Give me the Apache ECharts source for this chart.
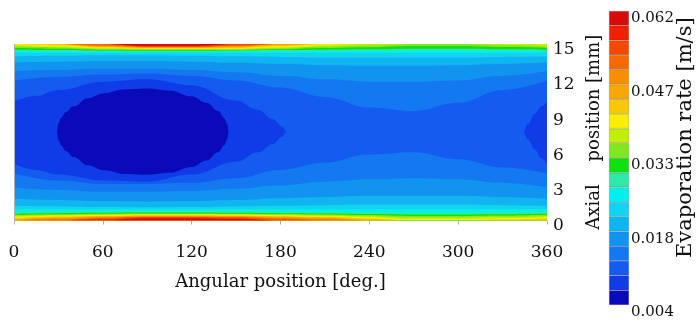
<!DOCTYPE html>
<html><head><meta charset="utf-8">
<script src="https://cdn.jsdelivr.net/npm/echarts@6/dist/echarts.min.js"></script>
<style>html,body{margin:0;padding:0;background:#fff}#c{width:699px;height:320px}</style>
</head><body><div id="c"></div>
<script>
// ---- axis / legend text ----
const xTickValues = [0, 60, 120, 180, 240, 300, 360];
const yTickValues = [0, 3, 6, 9, 12, 15];
const colorbarTickLabels = ['0.004', '0.018', '0.033', '0.047', '0.062'];
// 20 contour level colours, lowest (level 1) first
const levelColors = ['#0a0ab8','#103ce8','#145cf0','#1478f0','#1094f0','#10b4f0','#10d4f0','#00f0f0','#30e8a8','#10e010',
                     '#80e820','#c0f000','#f8f000','#f8c800','#f8a800','#f59000','#f56a00','#f54800','#f02000','#d80a0a'];

// ---- contour boundaries (mm) ----
// level 2: closed low-value core (navy ellipse)
const coreAngles = [0, 26, 29, 30, 32, 35, 40, 50, 60, 75, 90, 105, 120, 130, 138, 142, 144, 145, 148, 360];
const coreLower  = [7.9,7.9,7.55,6.85,6.35,5.9,5.4,4.7,4.3,3.95,3.88,4.05,4.55,5.1,5.8,6.4,6.9,7.55,7.9,7.9];
const coreUpper  = [7.2,7.2,7.55,8.25,8.75,9.2,9.7,10.4,10.8,11.15,11.22,11.05,10.55,10.0,9.3,8.7,8.2,7.55,7.2,7.2];
// level 3: lobe around the core (wraps round 0/360)
const lobeAngles = [0, 15, 30, 60, 90, 120, 150, 165, 175, 181, 184, 187, 341, 344, 347, 352, 356, 360];
const lobeLower  = [4.8,4.3,3.9,3.4,3.3,3.9,5.0,5.8,6.5,7.1,7.55,7.9,7.9,7.55,6.9,6.0,5.3,4.8];
const lobeUpper  = [10.1,10.6,11.1,11.8,12.0,11.5,10.2,9.4,8.6,8.0,7.55,7.2,7.2,7.55,8.2,9.1,9.7,10.1];
// levels 4..20: wall bands, sampled every 30 deg
const angles = [0, 30, 60, 90, 120, 150, 180, 210, 240, 270, 300, 330, 360];
const lower4  = [4.0,3.4,3.1,3.1,3.2,3.6,4.3,4.9,5.6,5.8,5.2,4.5,4.0];
const lower5  = [2.8,2.6,2.45,2.45,2.5,2.7,3.0,3.3,3.5,3.6,3.5,3.2,2.8];
const lower6  = [1.85,1.75,1.65,1.6,1.65,1.75,1.9,2.0,2.1,2.1,2.1,2.0,1.85];
const lower7  = [1.25,1.2,1.15,1.12,1.15,1.2,1.25,1.3,1.35,1.35,1.35,1.3,1.25];
const lower8  = [0.95,0.95,0.95,0.95,0.95,0.95,0.95,0.95,0.95,0.95,0.95,0.95,0.95];
const lower9  = [0.78,0.78,0.79,0.8,0.8,0.79,0.77,0.74,0.72,0.7,0.7,0.73,0.78];
const lower10 = [0.58,0.62,0.65,0.67,0.67,0.65,0.62,0.6,0.56,0.52,0.52,0.54,0.58];
const lower11 = [0.48,0.54,0.58,0.6,0.6,0.58,0.55,0.52,0.46,0.38,0.38,0.42,0.48];
const lower12 = [0.39,0.47,0.52,0.55,0.55,0.53,0.49,0.45,0.37,0.25,0.25,0.31,0.39];
const lower13 = [0.3,0.4,0.46,0.5,0.5,0.48,0.43,0.38,0.28,0.12,0.12,0.2,0.3];
const lower14 = [0.2,0.33,0.4,0.45,0.45,0.43,0.37,0.31,0.18,0,0,0.08,0.2];
const lower15 = [0.1,0.26,0.34,0.4,0.4,0.38,0.31,0.24,0.08,0,0,0,0.1];
const lower16 = [0,0.18,0.29,0.36,0.36,0.33,0.25,0.16,0,0,0,0,0];
const lower17 = [0,0.1,0.24,0.32,0.32,0.29,0.18,0.08,0,0,0,0,0];
const lower18 = [0,0,0.18,0.28,0.28,0.24,0.1,0,0,0,0,0,0];
const lower19 = [0,0,0.1,0.24,0.24,0.18,0,0,0,0,0,0,0];
const lower20 = [0,0,0,0.18,0.18,0.1,0,0,0,0,0,0,0];
const upper4  = [11.9,12.2,12.4,12.5,12.3,11.9,11.3,10.5,9.6,9.3,10.0,11.1,11.9];
const upper5  = [12.7,12.8,12.9,12.9,12.8,12.6,12.3,12.0,11.8,11.8,11.9,12.3,12.7];
const upper6  = [13.45,13.5,13.55,13.55,13.5,13.4,13.3,13.2,13.15,13.15,13.2,13.3,13.45];
const upper7  = [13.95,14.0,14.05,14.05,14.0,13.95,13.9,13.85,13.85,13.85,13.85,13.9,13.95];
const upper8  = [14.25,14.25,14.25,14.25,14.25,14.25,14.25,14.25,14.25,14.25,14.25,14.25,14.25];
const upper9  = [14.4,14.38,14.36,14.34,14.34,14.36,14.38,14.4,14.42,14.45,14.45,14.42,14.4];
const upper10 = [14.52,14.5,14.45,14.42,14.42,14.45,14.48,14.52,14.55,14.6,14.6,14.56,14.52];
const upper11 = [14.66,14.6,14.52,14.5,14.5,14.5,14.56,14.66,14.72,14.82,14.82,14.74,14.66];
const upper12 = [14.78,14.7,14.58,14.55,14.55,14.56,14.64,14.78,14.88,15,15,14.9,14.78];
const upper13 = [14.9,14.8,14.65,14.6,14.6,14.62,14.72,14.9,15,15,15,15,14.9];
const upper14 = [15,14.9,14.7,14.64,14.64,14.67,14.8,15,15,15,15,15,15];
const upper15 = [15,15,14.75,14.68,14.68,14.72,14.9,15,15,15,15,15,15];
const upper16 = [15,15,14.8,14.71,14.71,14.77,15,15,15,15,15,15,15];
const upper17 = [15,15,14.85,14.74,14.74,14.82,15,15,15,15,15,15,15];
const upper18 = [15,15,15,14.77,14.77,14.88,15,15,15,15,15,15,15];
const upper19 = [15,15,15,14.8,14.8,15,15,15,15,15,15,15,15];
const upper20 = [15,15,15,14.85,14.85,15,15,15,15,15,15,15,15];

const wallLower = [lower4,lower5,lower6,lower7,lower8,lower9,lower10,lower11,lower12,lower13,lower14,lower15,lower16,lower17,lower18,lower19,lower20];
const wallUpper = [upper4,upper5,upper6,upper7,upper8,upper9,upper10,upper11,upper12,upper13,upper14,upper15,upper16,upper17,upper18,upper19,upper20];

const FONT = '"DejaVu Serif", serif';
const series = [];
function addLevel(level, xs, lo, hi) {
  const color = levelColors[level - 1];
  const common = {type: 'line', xAxisIndex: 0, yAxisIndex: 0, smooth: 0.4, smoothMonotone: 'x',
    symbol: 'none', silent: true, animation: false,
    lineStyle: {width: 0, opacity: 0}};
  series.push(Object.assign({}, common, {data: xs.map((x, i) => [x, lo[i]]), areaStyle: {origin: 'start', color: color, opacity: 1}}));
  series.push(Object.assign({}, common, {data: xs.map((x, i) => [x, hi[i]]), areaStyle: {origin: 'end', color: color, opacity: 1}}));
}
addLevel(2, coreAngles, coreLower, coreUpper);
addLevel(3, lobeAngles, lobeLower, lobeUpper);
for (let k = 4; k <= 20; k++) addLevel(k, angles, wallLower[k - 4], wallUpper[k - 4]);

// colour bar: stacked segments, one per level (bottom = lowest)
levelColors.forEach((c, i) => {
  series.push({type: 'bar', xAxisIndex: 1, yAxisIndex: 1, stack: 'cb', data: [1], barWidth: '100%',
    silent: true, animation: false,
    itemStyle: {color: c, borderColor: 'rgba(40,40,40,0.3)', borderWidth: 0.6}});
});

const chart = echarts.init(document.getElementById('c'), null, {renderer: 'canvas'});
chart.setOption({
  animation: false,
  grid: [
    {left: 14, top: 44, width: 533, height: 176.5, show: true, backgroundColor: levelColors[0], borderWidth: 0},
    {left: 609, top: 11, width: 20, height: 297, show: false}
  ],
  xAxis: [
    {type: 'value', gridIndex: 0, min: 0, max: 360, interval: 60,
     axisLine: {show: false}, axisTick: {show: true, length: 4, lineStyle: {color: '#aaaaaa'}},
     splitLine: {show: false},
     axisLabel: {fontFamily: FONT, fontSize: 17, color: '#111', margin: 24,
       formatter: v => (xTickValues.indexOf(v) >= 0 ? String(v) : '')},
     name: 'Angular position [deg.]', nameLocation: 'middle', nameGap: 53,
     nameTextStyle: {fontFamily: FONT, fontSize: 18, color: '#111'}},
    {type: 'category', gridIndex: 1, data: ['bar'], show: false}
  ],
  yAxis: [
    {type: 'value', gridIndex: 0, position: 'right', min: 0, max: 15, interval: 3,
     axisLine: {show: false}, axisTick: {show: true, length: 4, lineStyle: {color: '#aaaaaa'}},
     splitLine: {show: false},
     axisLabel: {fontFamily: FONT, fontSize: 17, color: '#111', margin: 6,
       formatter: v => (yTickValues.indexOf(v) >= 0 ? '{t|' + v + '}' : ''),
       rich: {t: {fontFamily: FONT, fontSize: 17, color: '#111', padding: [11, 0, 0, 0]}}},
     name: 'Axial    position [mm]', nameLocation: 'middle', nameRotate: 90, nameGap: 37,
     nameTextStyle: {fontFamily: FONT, fontSize: 18, color: '#111'}},
    {type: 'value', gridIndex: 1, position: 'right', min: 0, max: 20, interval: 5,
     axisLine: {show: false}, axisTick: {show: false}, splitLine: {show: false},
     axisLabel: {fontFamily: FONT, fontSize: 15, color: '#111', margin: 2, verticalAlign: 'top',
       formatter: v => colorbarTickLabels[Math.round(v / 5)] }}
  ],
  graphic: [
    {type: 'line', shape: {x1: 14.5, y1: 44, x2: 14.5, y2: 221}, style: {stroke: '#b0b0b0', lineWidth: 1}, z: 100},
    {type: 'text', x: 686, y: 258, rotation: Math.PI / 2,
     style: {text: 'Evaporation rate [m/s]', font: '21px "DejaVu Serif"', fill: '#111', textAlign: 'left', textVerticalAlign: 'middle'}}
  ],
  series: series
});
</script></body></html>
